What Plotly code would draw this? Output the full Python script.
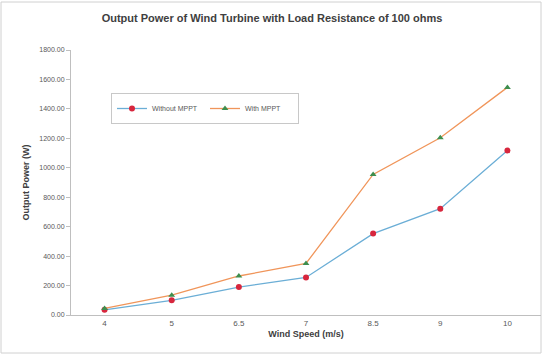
import plotly.graph_objects as go

categories = ["4", "5", "6.5", "7", "8.5", "9", "10"]
without_mppt = [35, 100, 190, 255, 553, 722, 1118]
with_mppt = [45, 135, 265, 350, 955, 1204, 1546]
y_ticks = [0, 200, 400, 600, 800, 1000, 1200, 1400, 1600, 1800]

FONT = "Liberation Sans"
W, H = 544, 356
L, R, T, B = 71, 3, 50, 41

fig = go.Figure()
fig.add_trace(go.Scatter(
    x=categories, y=without_mppt, name="Without MPPT", mode="lines+markers",
    line=dict(color="#6BAED6", width=1.3),
    marker=dict(symbol="circle", size=6, color="#D7263D"),
))
fig.add_trace(go.Scatter(
    x=categories, y=with_mppt, name="With MPPT", mode="lines+markers",
    line=dict(color="#F0955A", width=1.3),
    marker=dict(symbol="triangle-up", size=6, color="#3E8E4E"),
))

fig.update_layout(
    width=W, height=H,
    margin=dict(l=L, r=R, t=T, b=B),
    paper_bgcolor="white", plot_bgcolor="white",
    font=dict(family=FONT, size=8, color="#595959"),
    title=dict(text="<b>Output Power of Wind Turbine with Load Resistance of 100 ohms</b>",
               x=0.5, xanchor="center", y=1 - 18 / H, yanchor="middle",
               font=dict(family=FONT, size=11, color="#404040")),
    showlegend=True,
    legend=dict(orientation="h", x=(111 - L) / (W - L - R), y=1 - (93 - T) / (H - T - B),
                xanchor="left", yanchor="top",
                bordercolor="#C8C8C8", borderwidth=1, bgcolor="white",
                font=dict(size=7, color="#595959"),
                itemwidth=30, entrywidth=48, tracegroupgap=0),
    xaxis=dict(
        type="category", range=[-0.5, 6.5],
        showline=True, linecolor="#BFBFBF", linewidth=1,
        ticks="outside", ticklen=0, showgrid=False, zeroline=False,
        tickfont=dict(size=8, color="#595959"),
        title=dict(text="<b>Wind Speed (m/s)</b>", standoff=4,
                   font=dict(size=9, color="#404040")),
    ),
    yaxis=dict(
        range=[0, 1800], tickvals=y_ticks, tickformat=".2f",
        showline=True, linecolor="#BFBFBF", linewidth=1,
        ticks="outside", ticklen=4, tickcolor="#BFBFBF",
        showgrid=False, zeroline=False,
        tickfont=dict(size=7, color="#595959"),
        title=dict(text="<b>Output Power (W)</b>", standoff=8,
                   font=dict(size=9, color="#404040")),
    ),
    shapes=[dict(type="rect", xref="paper", yref="paper",
                 x0=(1 - L) / (W - L - R), x1=(541 - L) / (W - L - R),
                 y0=-(353 - (H - B)) / (H - T - B), y1=1 + (T - 2) / (H - T - B),
                 line=dict(color="#D0D0D0", width=1), layer="below")],
)

fig.write_html("out.html")
